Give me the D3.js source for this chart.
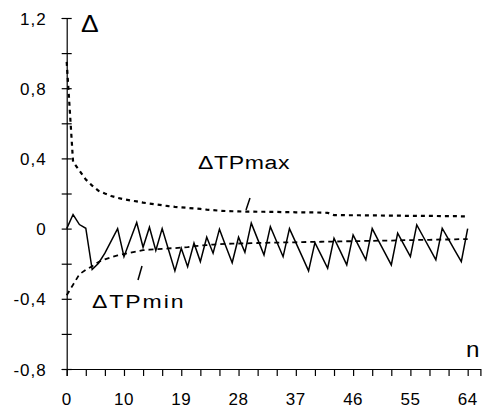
<!DOCTYPE html>
<html><head><meta charset="utf-8">
<script src="https://cdn.jsdelivr.net/npm/d3@7/dist/d3.min.js"></script>
<style>body{margin:0;background:#fff}svg{display:block}text{font-family:"Liberation Sans",Arial,sans-serif;fill:#000}</style>
</head><body><svg id="c" width="489" height="417"></svg>
<script>
// n = 1..64
const nValues = d3.range(1, 65);
const xTickValues = d3.range(1, 65, 3);
const xLabelValues = [1, 10, 19, 28, 37, 46, 55, 64];
const xLabels = ["0", "10", "19", "28", "37", "46", "55", "64"];
const yTickValues = [-0.8, -0.6, -0.4, -0.2, 0, 0.2, 0.4, 0.6, 0.8, 1.0, 1.2];
const yLabelValues = [-0.8, -0.4, 0, 0.4, 0.8, 1.2];
const yLabels = ["-0,8", "-0,4", "0", "0,4", "0,8", "1,2"];

const tpMax = [0.95, 0.38, 0.33, 0.28, 0.245, 0.215, 0.2, 0.186, 0.175, 0.167,
  0.16, 0.155, 0.148, 0.143, 0.138, 0.133, 0.128, 0.124, 0.121, 0.118,
  0.115, 0.112, 0.108, 0.105, 0.102, 0.1, 0.099, 0.098, 0.097, 0.097,
  0.096, 0.096, 0.095, 0.095, 0.094, 0.094, 0.093, 0.093, 0.092, 0.092,
  0.091, 0.09, 0.077, 0.077, 0.076, 0.076, 0.076, 0.075, 0.075, 0.075,
  0.074, 0.074, 0.074, 0.073, 0.073, 0.073, 0.072, 0.072, 0.072, 0.071,
  0.071, 0.071, 0.07, 0.07];
const tpMin = [-0.38, -0.32, -0.26, -0.235, -0.215, -0.19, -0.175, -0.163, -0.153, -0.145,
  -0.138, -0.13, -0.123, -0.12, -0.117, -0.115, -0.113, -0.111, -0.108, -0.105,
  -0.1, -0.097, -0.094, -0.091, -0.089, -0.087, -0.086, -0.085, -0.084, -0.083,
  -0.082, -0.081, -0.08, -0.08, -0.079, -0.078, -0.078, -0.077, -0.076, -0.076,
  -0.075, -0.074, -0.074, -0.073, -0.072, -0.072, -0.071, -0.07, -0.07, -0.069,
  -0.068, -0.068, -0.067, -0.066, -0.066, -0.065, -0.064, -0.064, -0.063, -0.062,
  -0.062, -0.061, -0.06, -0.06];
const delta = [0, 0.08, 0.023, 0.002, -0.233, -0.197, -0.14, -0.07, 0, -0.16,
  -0.062, 0.035, -0.106, 0.008, -0.125, 0, -0.12, -0.241, -0.112, -0.217,
  -0.083, -0.188, -0.049, -0.14, -0.003, -0.1, -0.194, -0.049, -0.135, 0.031,
  -0.06, -0.15, 0.011, -0.075, -0.16, 0, -0.08, -0.16, -0.241, -0.08,
  -0.153, -0.226, -0.055, -0.13, -0.207, -0.036, -0.107, -0.178, 0, -0.07,
  -0.138, -0.207, -0.026, -0.093, -0.16, 0.021, -0.045, -0.111, -0.178, 0.002,
  -0.061, -0.125, -0.188, 0];

const svg = d3.select("#c");
const x = d3.scaleLinear().domain([1, 66]).range([66.7, 480.4]);
const y = d3.scaleLinear().domain([-0.8, 1.2]).range([369, 18]);

// Y axis
const yAxis = d3.axisLeft(y).tickValues(yTickValues).tickSizeOuter(0).tickSize(5)
  .tickFormat(v => { const i = yLabelValues.findIndex(a => Math.abs(a - v) < 1e-9); return i >= 0 ? yLabels[i] : ""; });
const gy = svg.append("g").attr("transform", `translate(${x(1)},0)`).call(yAxis);
gy.select(".domain").attr("stroke", "#000").attr("stroke-width", 1.2);
gy.selectAll(".tick line").attr("x1", -5).attr("x2", 5).attr("stroke", "#000").attr("stroke-width", 1.2);
gy.selectAll(".tick text").attr("x", -20).attr("dy", "0.36em").style("font-size", "17px").style("letter-spacing", "1px");

// X axis
const xAxis = d3.axisBottom(x).tickValues(xTickValues).tickSizeOuter(0).tickSize(7).tickFormat("");
const gx = svg.append("g").attr("transform", `translate(0,${y(-0.8)})`).call(xAxis);
gx.select(".domain").attr("stroke", "#000").attr("stroke-width", 1.2);
gx.selectAll(".tick line").attr("stroke", "#000").attr("stroke-width", 1.2);
svg.append("g").selectAll("text").data(xLabelValues).join("text")
  .attr("x", d => x(d)).attr("y", 405).attr("text-anchor", "middle")
  .style("font-size", "17px").style("letter-spacing", "0.5px")
  .text((d, i) => xLabels[i]);

// Lines
const line = d3.line().x((d, i) => x(nValues[i])).y(d => y(d));
svg.append("path").datum(tpMax).attr("d", line).attr("fill", "none")
  .attr("stroke", "#000").attr("stroke-width", 2.2).attr("stroke-dasharray", "4,4");
svg.append("path").datum(tpMin).attr("d", line).attr("fill", "none")
  .attr("stroke", "#000").attr("stroke-width", 1.8).attr("stroke-dasharray", "5,4");
svg.append("path").datum(delta).attr("d", line).attr("fill", "none")
  .attr("stroke", "#000").attr("stroke-width", 1.5).attr("stroke-linejoin", "miter");

// Labels
svg.append("text").attr("transform", "translate(81,32) scale(1.15,1)").style("font-size", "23px").text("Δ");
svg.append("text").attr("transform", "translate(466,357) scale(1.1,1)").style("font-size", "22px").text("n");
svg.append("text").attr("transform", "translate(198,169) scale(1.28,1)").style("font-size", "18px").style("letter-spacing", "0.5px").text("ΔTPmax");
svg.append("text").attr("transform", "translate(92,308) scale(1.28,1)").style("font-size", "18px").style("letter-spacing", "1.5px").text("ΔTPmin");
// leader strokes
const leaders = [[[246, 210], [250, 198]], [[138, 280], [142, 266]]];
svg.append("g").selectAll("line").data(leaders).join("line")
  .attr("x1", d => d[0][0]).attr("y1", d => d[0][1]).attr("x2", d => d[1][0]).attr("y2", d => d[1][1])
  .attr("stroke", "#000").attr("stroke-width", 1.5);
</script></body></html>
